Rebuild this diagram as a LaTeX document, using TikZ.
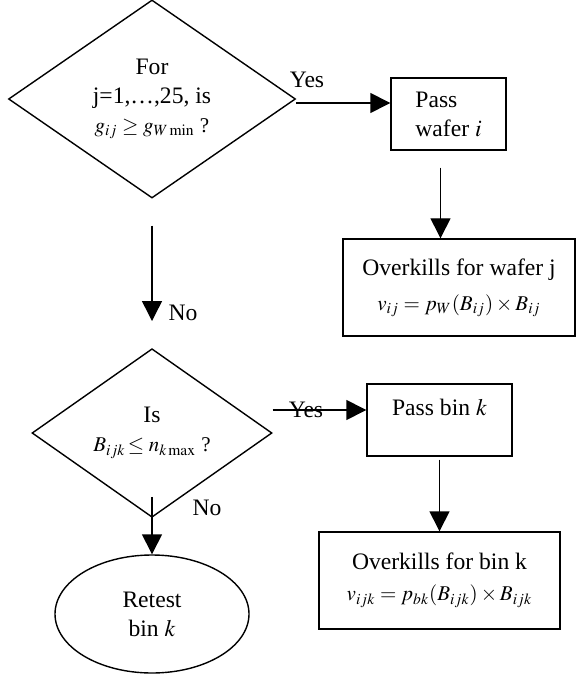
\documentclass[tikz,border=0pt]{standalone}
\usepackage{mathptmx}
\usepackage[no-math]{fontspec}
\setmainfont{Liberation Serif}
\usepackage{tikz}
\usetikzlibrary{shapes.geometric,arrows.meta}

\tikzset{
  decision/.style={diamond, draw, line width=0.7pt, inner sep=0pt, align=center},
  block/.style={rectangle, draw, line width=0.7pt, inner sep=0pt, align=center},
  terminal/.style={ellipse, draw, line width=0.7pt, inner sep=0pt, align=center},
  arr/.style={line width=0.7pt, -{Triangle[length=10pt,width=10pt]}},
  answer/.style={inner sep=0pt},
}
\newcommand{\frm}{\fontsize{10.5}{12}\selectfont}

\begin{document}
\begin{tikzpicture}[x=0.5pt, y=-0.5pt, font=\fontsize{11.8}{14.5}\selectfont]
\useasboundingbox (0,0) rectangle (577,679);
% decisions
\node[decision, minimum width=143.5pt, minimum height=99pt] (dw) at (152,99)
  {For\\ j=1,\ldots,25, is\\ {\frm$g_{ij}\geq g_{W\min}$ ?}};
\node[decision, minimum width=120pt, minimum height=71pt] (db) at (152,433)
  {Is\\ {\frm$B_{ijk}\!\leq n_{k\max}$ ?}};
% boxes
\node[block, align=left, minimum width=57.5pt, minimum height=36pt] (pw) at (448.5,114)
  {Pass\\ wafer $i$};
\node[block, minimum width=116pt, minimum height=48.5pt] (ow) at (459,287.5)
  {Overkills for wafer j\\[3pt] {\frm$v_{ij}=p_W(B_{ij})\times B_{ij}$}};
\node[block, text height=8pt, text depth=13pt, minimum width=72.5pt, minimum height=36pt] (pb) at (439.5,420)
  {Pass bin $k$};
\node[block, minimum width=120.5pt, minimum height=48.5pt] (ob) at (439.5,580.5)
  {Overkills for bin k\\[1pt] {\frm$v_{ijk}=p_{bk}(B_{ijk})\times B_{ijk}$}};
\node[terminal, minimum width=97pt, minimum height=59pt] (rt) at (152,614)
  {Retest\\ bin $k$};

% connectors
\draw[arr] ([yshift=-2pt]dw.east) coordinate (y1) -- (y1 -| pw.west);
\node[answer] (yes1) at (307,80) {Yes};
\draw[arr] ([shift={(-4pt,-8.5pt)}]pw.south) coordinate (p1) -- (p1 |- ow.north);
\draw[arr] ([yshift=-13.5pt]dw.south) -- ([yshift=13.5pt]db.north);
\node[answer] (no1) at (183,313) {No};
\coordinate (y2) at ([yshift=5pt]pb.west);
\draw[arr] (y2 -| db.east) -- (y2);
\node[answer] (yes2) at (306,410) {Yes};
\draw[arr] ([yshift=-1.5pt]pb.south) -- (ob.north);
\draw[arr] ([yshift=10.5pt]db.south) -- (rt.north);
\node[answer] (no2) at (207,508) {No};
\end{tikzpicture}
\end{document}
